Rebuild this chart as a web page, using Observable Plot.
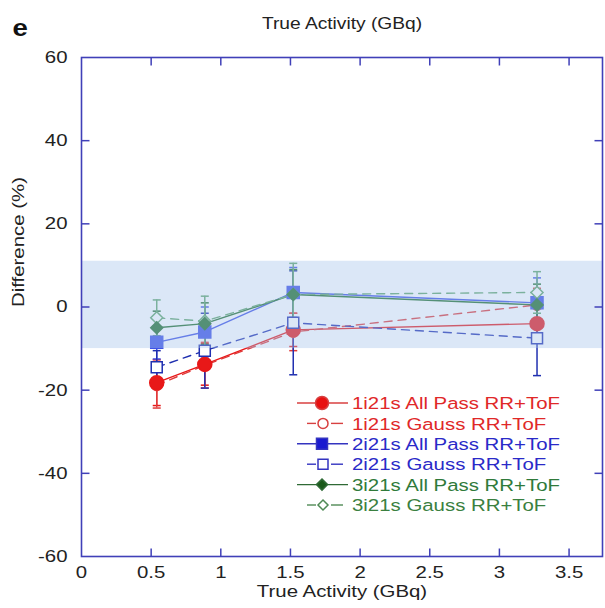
<!DOCTYPE html>
<html><head><meta charset="utf-8">
<script src="https://cdn.jsdelivr.net/npm/d3@7"></script>
<script src="https://cdn.jsdelivr.net/npm/@observablehq/plot@0.6"></script>
<style>
body{margin:0;background:#fff;}
#wrap{position:relative;width:605px;height:608px;}
#legend{position:absolute;left:0;top:0;pointer-events:none;}
</style>
</head><body><div id="wrap"></div>
<script>
// ---- data ----
const activity = [0.54, 0.885, 1.52, 3.27];
const seriesLabels = [
  "1i21s All Pass RR+ToF", "1i21s Gauss RR+ToF",
  "2i21s All Pass RR+ToF", "2i21s Gauss RR+ToF",
  "3i21s All Pass RR+ToF", "3i21s Gauss RR+ToF"
];
const diff1AllPass = [-18.2, -13.8, -5.5, -4.0];
const err1AllPass  = [5.5, 5.0, 4.0, 4.0];
const diff1Gauss   = [-18.8, -14.0, -6.0, 0.5];
const err1Gauss    = [5.5, 5.5, 4.5, 4.0];
const diff2AllPass = [-8.5, -6.0, 3.5, 1.0];
const err2AllPass  = [4.0, 6.0, 6.0, 6.0];
const diff2Gauss   = [-14.5, -10.5, -3.8, -7.5];
const err2Gauss    = [4.0, 9.0, 12.5, 9.0];
const diff3AllPass = [-5.0, -4.0, 3.0, 0.5];
const err3AllPass  = [4.0, 5.0, 6.0, 5.0];
const diff3Gauss   = [-2.6, -3.4, 3.0, 3.5];
const err3Gauss    = [4.3, 6.0, 7.5, 5.0];
const xTicks = [0, 0.5, 1, 1.5, 2, 2.5, 3, 3.5];
const yTicks = [-60, -40, -20, 0, 20, 40, 60];
const bandLow = -10, bandHigh = 11;

// ---- styling ----
const xDomain = [0, 3.74], yDomain = [-60, 60];
const font = "Liberation Sans, Arial, Helvetica, sans-serif";
const stretch = 1.2; // the reference glyphs are horizontally widened
const frameColor = "#4040b8";
const styles = [
  {color: "#e81818", legendLine: "#d84040", text: "#e02828", sym: "circle", r: 7, filled: true, dash: null},
  {color: "#e03a3a", legendLine: "#d84040", text: "#e02828", sym: "circle", r: 5.5, filled: false, dash: "8,6"},
  {color: "#3c50e6", legendLine: "#3434c0", text: "#2a2ac8", sym: "square", r: 6, filled: true, dash: null},
  {color: "#2030b0", legendLine: "#3434c0", text: "#2a2ac8", sym: "square", r: 5.5, filled: false, dash: "8,6"},
  {color: "#1f6e2a", legendLine: "#2f6a35", text: "#2f7a3a", sym: "diamond", r: 6, filled: true, dash: null},
  {color: "#5fa56a", legendLine: "#4f8a55", text: "#3a8040", sym: "diamond", r: 6, filled: false, dash: "8,6"}
];
const diffs = [diff1AllPass, diff1Gauss, diff2AllPass, diff2Gauss, diff3AllPass, diff3Gauss];
const errs  = [err1AllPass, err1Gauss, err2AllPass, err2Gauss, err3AllPass, err3Gauss];

const series = seriesLabels.map((label, i) => ({
  label, style: styles[i],
  rows: activity.map((x, j) => ({x, y: diffs[i][j], err: errs[i][j]}))
}));

// custom symbols (radius from size)
const rad = size => Math.sqrt(size / Math.PI);
const symSquare = {draw(c, size){ const r = rad(size); c.moveTo(-r,-r); c.lineTo(r,-r); c.lineTo(r,r); c.lineTo(-r,r); c.closePath(); }};
const symDiamond = {draw(c, size){ const r = rad(size); c.moveTo(0,-r); c.lineTo(r,0); c.lineTo(0,r); c.lineTo(-r,0); c.closePath(); }};
const symCircle = {draw(c, size){ const r = rad(size); c.moveTo(r,0); c.arc(0,0,r,0,2*Math.PI); c.closePath(); }};
const symbolOf = s => s === "square" ? symSquare : s === "diamond" ? symDiamond : symCircle;
const cap = {draw(c){ c.moveTo(-4,0); c.lineTo(4,0); }};
const tUp = {draw(c){ c.moveTo(0,0); c.lineTo(0,-8); }};
const tDown = {draw(c){ c.moveTo(0,0); c.lineTo(0,8); }};
const tRight = {draw(c){ c.moveTo(0,0); c.lineTo(8,0); }};
const tLeft = {draw(c){ c.moveTo(0,0); c.lineTo(-8,0); }};

const marks = [];
series.forEach(s => marks.push(Plot.line(s.rows, {x: "x", y: "y", stroke: s.style.color, strokeWidth: 1.4, strokeDasharray: s.style.dash})));
series.forEach(s => {
  marks.push(Plot.ruleX(s.rows, {x: "x", y1: d => d.y - d.err, y2: d => d.y + d.err, stroke: s.style.color, strokeWidth: 1.5}));
  marks.push(Plot.dot(s.rows, {x: "x", y: d => d.y - d.err, symbol: cap, fill: "none", stroke: s.style.color, strokeWidth: 1.5}));
  marks.push(Plot.dot(s.rows, {x: "x", y: d => d.y + d.err, symbol: cap, fill: "none", stroke: s.style.color, strokeWidth: 1.5}));
});
// markers: open (Gauss) markers first so filled markers sit on top
[1, 0, 3, 2, 5, 4].map(i => series[i]).forEach(s => marks.push(Plot.dot(s.rows, {
  x: "x", y: "y", symbol: symbolOf(s.style.sym), r: s.style.r,
  fill: s.style.filled ? s.style.color : "white", stroke: s.style.color, strokeWidth: 1.5
})));
marks.push(Plot.rect([{}], {x1: xDomain[0], x2: xDomain[1], y1: bandLow, y2: bandHigh, fill: "#a6c2ea", fillOpacity: 0.4}));
marks.push(Plot.frame({stroke: frameColor, strokeWidth: 1.6}));
const innerX = xTicks.filter(d => d > xDomain[0] && d < xDomain[1]);
const innerY = yTicks.filter(d => d > yDomain[0] && d < yDomain[1]);
marks.push(Plot.dot(innerX, {x: d => d, y: yDomain[0], symbol: tUp, fill: "none", stroke: frameColor, strokeWidth: 1.5}));
marks.push(Plot.dot(innerX, {x: d => d, y: yDomain[1], symbol: tDown, fill: "none", stroke: frameColor, strokeWidth: 1.5}));
marks.push(Plot.dot(innerY, {x: xDomain[0], y: d => d, symbol: tRight, fill: "none", stroke: frameColor, strokeWidth: 1.5}));
marks.push(Plot.dot(innerY, {x: xDomain[1], y: d => d, symbol: tLeft, fill: "none", stroke: frameColor, strokeWidth: 1.5}));
marks.push(Plot.axisX({ticks: xTicks, tickSize: 0, tickPadding: 9, tickFormat: d => String(d), fontSize: 17, label: null}));
marks.push(Plot.axisY({ticks: yTicks, tickSize: 0, tickPadding: 14, tickFormat: d => String(d), fontSize: 17, label: null}));
marks.push(Plot.text(["True Activity (GBq)"], {frameAnchor: "top", dy: -40, fontSize: 16, fill: "#222"}));
marks.push(Plot.text(["True Activity (GBq)"], {frameAnchor: "bottom", dy: 40, fontSize: 17, fill: "#222"}));
marks.push(Plot.text(["Difference (%)"], {frameAnchor: "left", dx: -63, rotate: -90, fontSize: 17, fill: "#222"}));
marks.push(Plot.text(["e"], {frameAnchor: "top-left", dx: -69, dy: -38, textAnchor: "start", fontSize: 23, fontWeight: "bold", fill: "#111"}));

const chart = Plot.plot({
  width: 605, height: 608,
  marginLeft: 81, marginRight: 3, marginTop: 57, marginBottom: 52,
  x: {domain: xDomain},
  y: {domain: yDomain},
  style: {fontFamily: font, fontSize: "16px", color: "#222", background: "white"},
  marks
});
// widen glyphs horizontally about each text's anchor point
d3.select(chart).selectAll("text").each(function() {
  const t = this.getAttribute("transform") || "";
  this.setAttribute("transform", (t + ` scale(${stretch},1)`).trim());
});
const wrap = document.getElementById("wrap");
wrap.appendChild(chart);

// legend overlay
const lg = d3.select(wrap).append("svg").attr("id", "legend").attr("width", 605).attr("height", 608);
const rowY0 = 403, rowStep = 20.4;
series.forEach((s, i) => {
  const y = rowY0 + i * rowStep;
  const st = s.style;
  const g = lg.append("g");
  if (st.dash) {
    g.append("line").attr("x1", 307).attr("x2", 316).attr("y1", y).attr("y2", y).attr("stroke", st.legendLine).attr("stroke-width", 1.4);
    g.append("line").attr("x1", 331).attr("x2", 343).attr("y1", y).attr("y2", y).attr("stroke", st.legendLine).attr("stroke-width", 1.4);
  } else {
    g.append("line").attr("x1", 297).attr("x2", 348).attr("y1", y).attr("y2", y).attr("stroke", st.legendLine).attr("stroke-width", 1.4);
  }
  const r = st.filled ? (st.sym === "circle" ? 6.5 : 5.5) : 5;
  g.append("path")
    .attr("transform", `translate(${st.dash ? 323 : 322},${y})`)
    .attr("d", d3.symbol(symbolOf(st.sym), Math.PI * r * r)())
    .attr("fill", st.filled ? (st.sym === "circle" ? "#e81010" : st.sym === "square" ? "#1a1ad0" : "#1a5a1a") : "white")
    .attr("stroke", st.legendLine).attr("stroke-width", 1.5);
  g.append("text").attr("transform", `translate(352,${y}) scale(${stretch},1)`).attr("dy", "0.36em")
    .attr("font-family", font).attr("font-size", 17).attr("fill", st.text).text(s.label);
});
</script>
</body></html>
